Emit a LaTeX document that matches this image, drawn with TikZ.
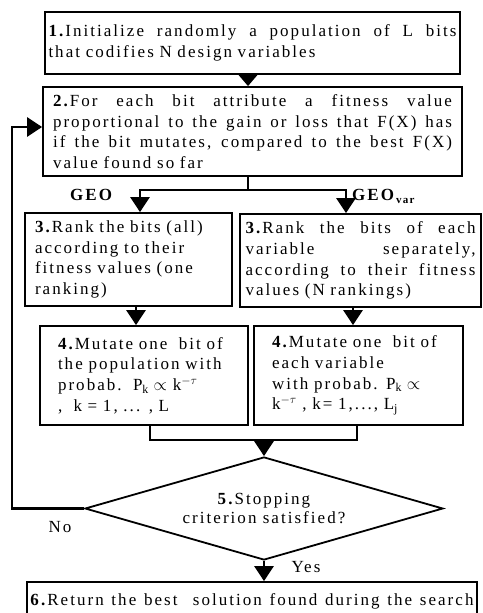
\documentclass[tikz,border=0pt]{standalone}
\usepackage{fontspec}
\setmainfont{Liberation Serif}[LetterSpace=12]
\usetikzlibrary{arrows.meta,shapes.geometric}
\tikzset{
  x=1pt, y=-1pt,
  box/.style={draw, line width=1.8pt, inner xsep=0pt, inner ysep=0pt, align=left,
    font=\fontsize{17}{20.7}\selectfont},
  conn/.style={line width=2.8pt, line join=miter},
  arr/.style={conn, -{Triangle[length=15pt,width=19pt]}},
  sarr/.style={conn, -{Triangle[length=11pt,width=18pt]}},
  lbl/.style={font=\fontsize{17}{20}\selectfont, inner sep=0pt},
}
\newcommand{\jl}[2]{\leavevmode{\spaceskip=\fontdimen2\font plus 200pt\relax\hbox to #1pt{#2}}}
\begin{document}
\begin{tikzpicture}
\useasboundingbox (0,0) rectangle (482,613);
% boxes
\node[box, minimum width=415pt, minimum height=62pt, text width=408pt] (b1) at (252.5,43)
  {\jl{408}{\textbf{1.}Initialize randomly a population of L bits}\\
   that codifies N design variables};
\node[box, minimum width=419pt, minimum height=89pt, text width=399pt] (b2) at (252.5,131.5)
  {\jl{399}{\textbf{2.}For each bit attribute a fitness value}\\
   \jl{399}{proportional to the gain or loss that F(X) has}\\
   \jl{399}{if the bit mutates, compared to the best F(X)}\\
   value found so far};
\node[box, minimum width=207pt, minimum height=93pt, text width=187pt] (b3l) at (128.5,259.5)
  {\textbf{3.}Rank the bits (all)\\
   according to their\\
   fitness values (one\\
   ranking)};
\node[box, minimum width=241pt, minimum height=93pt, text width=230pt] (b3r) at (360.5,260.5)
  {\jl{230}{\textbf{3.}Rank the bits of each}\\
   \jl{230}{variable separately,}\\
   \jl{230}{according to their fitness}\\
   values (N rankings)};
\node[box, minimum width=208pt, minimum height=99pt, text width=172pt] (b4l) at (144,375.5)
  {\textbf{4.}Mutate one\ \ bit of\\
   the population with\\
   probab.\ \ P$_{\mathrm{k}}\propto$ k$^{-\tau}$\\
   ,\ \ k = 1, ... , L};
\node[box, minimum width=209pt, minimum height=99pt, text width=173pt] (b4r) at (358.5,375.5)
  {\textbf{4.}Mutate one\ \ bit of\\
   each variable\\
   with probab. P$_{\mathrm{k}}\propto$\\
   k$^{-\tau}$ , k= 1,..., L$_{\mathrm{j}}$};
\node[draw, diamond, line width=1.8pt, minimum width=358pt, minimum height=103pt, inner sep=0pt,
  aspect=3.47, align=center, font=\fontsize{17}{19.5}\selectfont] (d5) at (264,508.5)
  {\textbf{5.}Stopping\\criterion satisfied?};
\node[box, minimum width=450pt, minimum height=38pt, text width=443pt] (b6) at (252,601)
  {\jl{443}{\textbf{6.}Return the best\ \ solution found during the search}};
% labels
\node[lbl, anchor=base west] (geo) at (70,200) {\textbf{GEO}};
\node[lbl, anchor=base west] (geovar) at (352,200)
  {\textbf{GEO}\raisebox{-3.5pt}{\fontsize{11}{11}\selectfont\textbf{var}}};
\node[lbl] (no) at (60,527) {No};
\node[lbl] (yes) at (306,567) {Yes};
% coordinates
\coordinate (sp) at (248,190);
\coordinate (sL) at (140,190);
\coordinate (sR) at (346,190);
\coordinate (mL) at (150,440);
\coordinate (mR) at (357,440);
\coordinate (m) at (264,440);
\coordinate (lp) at (12,127);
% connectors
\draw[sarr] ([xshift=-4.5pt]b1.south) -- ([xshift=-4.5pt]b2.north);
\draw[conn] ([xshift=-4.5pt]b2.south) -- (sp);
\draw[arr] (sp) -| (b3l.north -| sL);
\draw[arr] (sp) -| (b3r.north -| sR);
\draw[arr] ([xshift=7.5pt]b3l.south) -- ([xshift=-8pt]b4l.north);
\draw[arr] ([xshift=-7.5pt]b3r.south) -- ([xshift=-5.5pt]b4r.north);
\draw[conn] ([xshift=6pt]b4l.south) -- (mL) -- (mR) -- ([xshift=-1.5pt]b4r.south);
\draw[arr] (m) -- (d5.north);
\draw[arr] (d5.south) -- (b6.north -| d5.south);
\draw[arr] (d5.west) -| (lp) -- (lp -| b2.west);
\end{tikzpicture}
\end{document}
